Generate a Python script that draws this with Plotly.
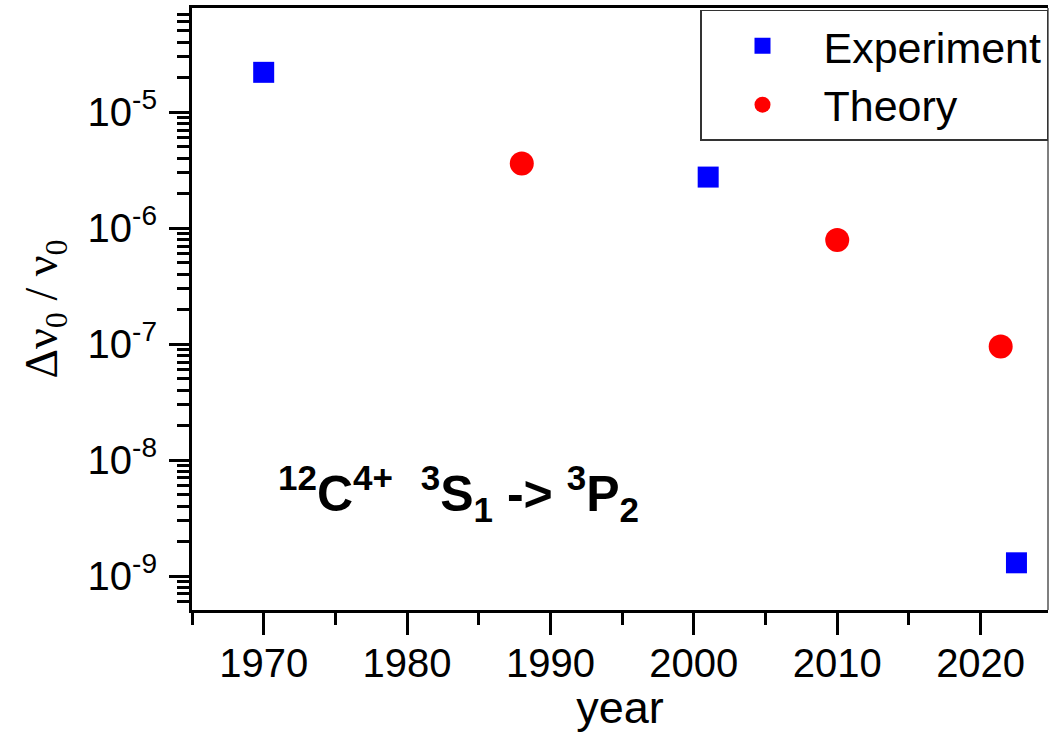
import plotly.graph_objects as go

# Fractional frequency uncertainty of the 12C4+ 3S1 -> 3P2 line over time
exp_years = [1970, 2001, 2022.5]
exp_values = [2.2e-5, 2.75e-6, 1.3e-9]

theory_years = [1988, 2010, 2021.4]
theory_values = [3.6e-6, 7.9e-7, 9.5e-8]

x_ticks = [1970, 1980, 1990, 2000, 2010, 2020]
y_ticks = [1e-9, 1e-8, 1e-7, 1e-6, 1e-5]
y_ticktext = ["10<sup>-9</sup>", "10<sup>-8</sup>", "10<sup>-7</sup>",
              "10<sup>-6</sup>", "10<sup>-5</sup>"]

FONT = "Liberation Sans, Arial, sans-serif"

fig = go.Figure()
fig.add_trace(go.Scatter(
    x=exp_years, y=exp_values, mode="markers", name="Experiment",
    marker=dict(symbol="square", size=21, color="#0000ff", line=dict(width=0)),
))
fig.add_trace(go.Scatter(
    x=theory_years, y=theory_values, mode="markers", name="Theory",
    marker=dict(symbol="circle", size=24, color="#ff0000", line=dict(width=0)),
))

fig.update_layout(
    width=1051, height=733,
    margin=dict(l=192, r=3, t=8, b=123),
    paper_bgcolor="white", plot_bgcolor="white",
    font=dict(family=FONT, size=40, color="black"),
    showlegend=True,
    legend=dict(
        x=1, y=0.997, xanchor="right", yanchor="top",
        bordercolor="#333333", borderwidth=1.5, bgcolor="white",
        font=dict(family=FONT, size=43), itemwidth=112,
        tracegroupgap=0,
    ),
    xaxis=dict(
        range=[1965, 2024.7], tickvals=x_ticks, ticktext=[str(v) for v in x_ticks],
        ticks="outside", ticklen=22, tickwidth=3, tickcolor="black",
        ticklabelstandoff=-6,
        showline=True, linewidth=3, linecolor="black", mirror=True,
        showgrid=False, zeroline=False,
        minor=dict(ticks="outside", ticklen=12, tickwidth=3, tickcolor="black",
                   tick0=1965, dtick=5, showgrid=False),
        title=dict(text="year", font=dict(family=FONT, size=45), standoff=6),
    ),
    yaxis=dict(
        type="log", range=[-9.293, -4.103],
        tickvals=y_ticks, ticktext=y_ticktext,
        ticks="outside", ticklen=20, tickwidth=3, tickcolor="black",
        ticklabelstandoff=4,
        showline=True, linewidth=3, linecolor="black",
        showgrid=False, zeroline=False,
        minor=dict(ticks="outside", ticklen=12, tickwidth=3, tickcolor="black",
                   dtick="D1", showgrid=False),
        title=dict(text="Δν<sub>0</sub> / ν<sub>0</sub>",
                   font=dict(family="Liberation Serif, Times New Roman, serif", size=46),
                   standoff=16),
    ),
)

# thin right border of the frame
fig.add_shape(type="line", xref="paper", yref="paper", x0=1, x1=1, y0=0, y1=1,
              line=dict(color="#555555", width=1.5))

fig.add_annotation(
    xref="paper", yref="paper", x=0.311, y=0.194, xanchor="center", yanchor="middle",
    showarrow=False,
    text="<b><sup>12</sup>C<sup>4+</sup>&nbsp;&nbsp;<sup>3</sup>S<sub>1</sub> -&gt; <sup>3</sup>P<sub>2</sub></b>",
    font=dict(family=FONT, size=50, color="black"),
)

fig.write_html("out.html")
